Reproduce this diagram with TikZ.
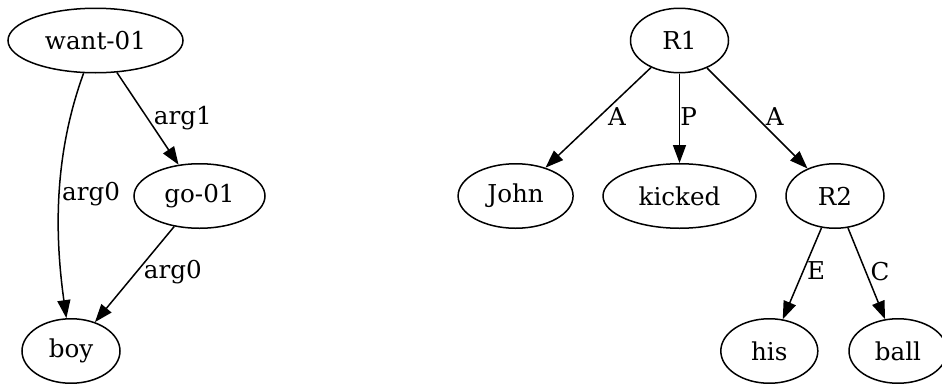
\documentclass[tikz,border=0pt]{standalone}
\usepackage{fontspec}
\setmainfont{DejaVu Serif}
\usetikzlibrary{arrows.meta,shapes.geometric}
\begin{document}
\begin{tikzpicture}[x=1pt,y=-1pt,
  gnode/.style={draw, ellipse, line width=1.5pt, minimum height=64.5pt, inner sep=0pt, font=\fontsize{24.6}{28}\selectfont},
  edge/.style={draw, line width=1.5pt, -{Triangle[length=18pt,width=13pt]}},
  lbl/.style={inner sep=0pt, anchor=west, font=\fontsize{24.6}{28}\selectfont}]
\useasboundingbox (0,0) rectangle (942,383);
% left graph
\node[gnode, minimum width=175pt] (want) at (95.5,40.5) {want-01};
\node[gnode, minimum width=131pt] (go) at (199.5,196) {go-01};
\node[gnode, minimum width=98pt] (boy) at (71,351) {boy};
% right graph
\node[gnode, minimum width=98pt] (R1) at (679.5,40.5) {R1};
\node[gnode, minimum width=115pt] (john) at (515.6,196) {John};
\node[gnode, minimum width=153pt] (kicked) at (679.5,196) {kicked};
\node[gnode, minimum width=98pt] (R2) at (835,196) {R2};
\node[gnode, minimum width=97pt] (his) at (769.3,351) {his};
\node[gnode, minimum width=98pt] (ball) at (898,351) {ball};
% edges
\draw[edge] (want) to[out=-110, in=98, looseness=0.9] node[lbl, pos=0.5, xshift=2pt] {arg0} (boy);
\draw[edge] (want) -- node[lbl, pos=0.49, xshift=6pt] {arg1} (go);
\draw[edge] (go) -- node[lbl, pos=0.48, xshift=7pt] {arg0} (boy);
\draw[edge] (R1) -- node[lbl, pos=0.49, xshift=8pt] {A} (john);
\draw[edge] (R1) -- node[lbl, pos=0.48, xshift=0pt] {P} (kicked);
\draw[edge] (R1) -- node[lbl, pos=0.48, xshift=10pt] {A} (R2);
\draw[edge] (R2) -- node[lbl, pos=0.47, xshift=3pt] {E} (his);
\draw[edge] (R2) -- node[lbl, pos=0.48, xshift=4pt] {C} (ball);
\end{tikzpicture}
\end{document}
